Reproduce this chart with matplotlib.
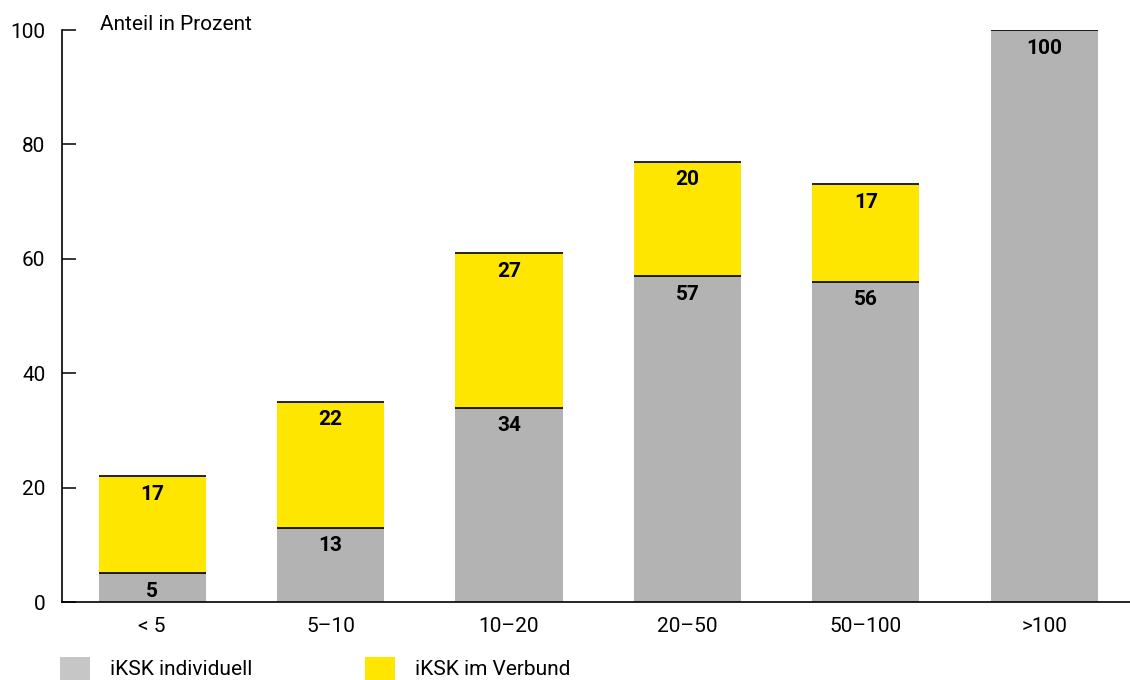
import matplotlib.pyplot as plt
from matplotlib.patches import Patch
import numpy as np

plt.rcParams['font.family'] = ['Roboto', 'DejaVu Sans']

categories = ['< 5', '5–10', '10–20', '20–50', '50–100', '>100']
individuell = [5, 13, 34, 57, 56, 100]
verbund = [17, 22, 27, 20, 17, 0]
series_names = ['iKSK individuell', 'iKSK im Verbund']
y_ticks = [0, 20, 40, 60, 80, 100]

GRAY = '#b3b3b3'
GRAY_LEG = '#c6c6c6'
YELLOW = '#ffe600'
FS = 15

fig = plt.figure(figsize=(11.3, 6.8), dpi=100)
ax = fig.add_axes([62 / 1130, 78 / 680, 1 - 62 / 1130, 572 / 680])

x = np.arange(len(categories))
ind = np.array(individuell)
ver = np.array(verbund)
w = 0.6

ax.bar(x, ind, width=w, color=GRAY, linewidth=0, zorder=2)
ax.bar(x, ver, width=w, bottom=ind, color=YELLOW, linewidth=0, zorder=2)

# thin black line on top of each segment
ax.hlines(ind, x - w / 2, x + w / 2, color='black', linewidth=1.2, zorder=3)
m = ver > 0
ax.hlines((ind + ver)[m], (x - w / 2)[m], (x + w / 2)[m], color='black', linewidth=1.2, zorder=3)

for i in range(len(x)):
    ax.annotate(str(ind[i]), (x[i], ind[i]), xytext=(0, -13), textcoords='offset points',
                ha='center', va='center', fontsize=FS, fontweight='bold', zorder=4)
    if ver[i] > 0:
        ax.annotate(str(ver[i]), (x[i], ind[i] + ver[i]), xytext=(0, -13), textcoords='offset points',
                    ha='center', va='center', fontsize=FS, fontweight='bold', zorder=4)

ax.set_xlim(-0.505, 5.48)
ax.set_ylim(0, 100)
ax.set_xticks(x)
ax.set_xticklabels(categories)
ax.set_yticks(y_ticks)
ax.tick_params(axis='x', length=0, pad=11, labelsize=FS)
ax.tick_params(axis='y', direction='in', length=10, width=1.1, pad=12, labelsize=FS)
for s in ['top', 'right']:
    ax.spines[s].set_visible(False)
ax.spines['left'].set_linewidth(1.2)
ax.spines['bottom'].set_linewidth(1.2)

fig.text(100 / 1130, 1 - 24 / 680, 'Anteil in Prozent', fontsize=FS, ha='left', va='center')

handles = [Patch(facecolor=GRAY_LEG, edgecolor='none'), Patch(facecolor=YELLOW, edgecolor='none')]
fig.legend(handles, series_names, loc='lower left', bbox_to_anchor=(60 / 1130, 0.0),
           ncol=2, frameon=False, fontsize=FS, handlelength=1.44, handleheight=1.35,
           handletextpad=0.96, columnspacing=5.4, borderpad=0, borderaxespad=0)

fig.savefig('out.png', dpi=100)
